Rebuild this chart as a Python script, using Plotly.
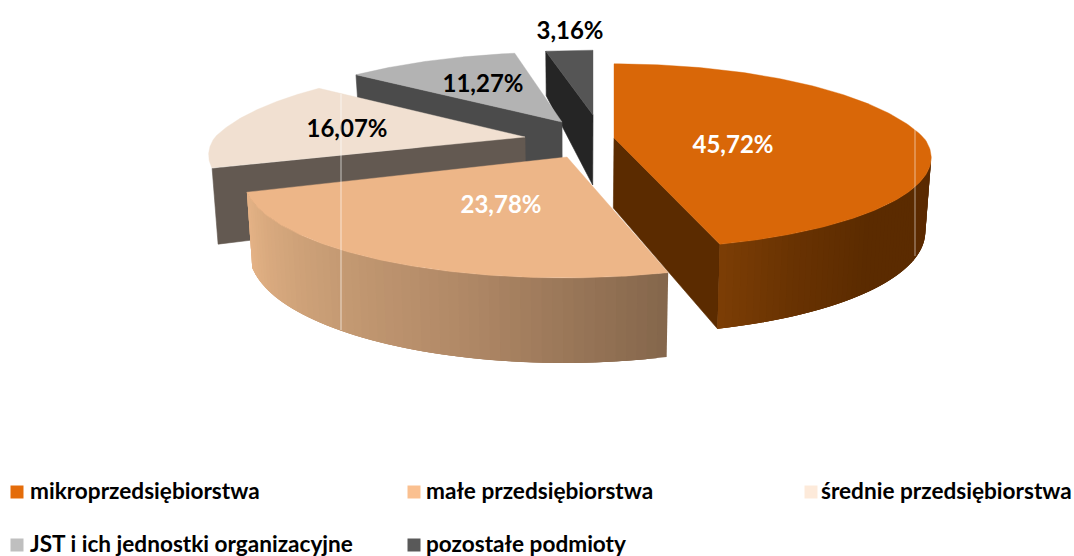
import numpy as np
import plotly.graph_objects as go

categories = ["mikroprzedsiębiorstwa", "małe przedsiębiorstwa", "średnie przedsiębiorstwa",
              "JST i ich jednostki organizacyjne", "pozostałe podmioty"]
values = [45.72, 23.78, 16.07, 11.27, 3.16]

# styles
top_colors = ["#D96708", "#EDB688", "#F1E0D1", "#B3B3B3", "#555555"]
wall_colors = ["#5B2B00", "#84664B", "#635951", "#4B4B4B", "#252525"]
legend_colors = ["#E46C0A", "#FAC090", "#FDEADA", "#BFBFBF", "#595959"]
label_colors = ["white", "white", "black", "black", "black"]
# 3D look: position of each pulled-out slice tip on the page, slice scale
apex = [(614, 138), (567, 157), (525, 137), (562, 122), (593, 115)]
x_scale = [1.0, 1.02, 1.0, 1.0, 1.0]
y_scale = [1.03, 1.12, 1.0, 0.97, 0.9]
x_shear = [4.0, -3.0, 0.0, 0.0, 0.0]
label_pos = [(733, 147), (501, 207), (347, 131), (483, 86), (570, 33)]
legend_pos = [(17, 492), (414, 492), (811, 492), (17, 545), (414, 545)]
legend_text_x = [30, 426, 821, 30, 426]
# outer wall gradients: (fraction along the visible wall from start to end angle, colour)
gradients = {
    0: [(0.0, (91, 42, 0)), (0.55, (91, 43, 0)), (0.8, (104, 50, 2)), (1.0, (124, 62, 5))],
    1: [(0.0, (132, 102, 75)), (0.35, (176, 136, 102)), (0.65, (200, 157, 117)), (1.0, (229, 179, 134))],
}
RX, K_BACK, K_FRONT, RY_BACK, RY_FRONT = 310.0, 0.3, 0.2, 93.6, 86.4
WALL_MID_X, CONVERGE = 575.0, 0.0165


def offset(t):
    """Perspective offset of a rim point at clockwise angle t from 12 o'clock."""
    X, Y = np.sin(t), np.cos(t)
    w = 1 + (K_BACK if Y >= 0 else K_FRONT) * Y
    ry = RY_BACK if Y >= 0 else RY_FRONT
    return RX * X / w, -ry * Y / w, Y


def rim(i, t):
    sx, sy, Y = offset(t)
    shear = x_shear[i] * max(0.0, -Y)
    return apex[i][0] + x_scale[i] * sx + shear, apex[i][1] + y_scale[i] * sy


def lower(x, y, Y):
    h = 71 - 14 * Y if Y < 0 else 70 - 26 * Y
    return x + (WALL_MID_X - x) * CONVERGE, y + h


def mix(stops, f):
    for (f0, c0), (f1, c1) in zip(stops, stops[1:]):
        if f <= f1:
            a = (f - f0) / (f1 - f0)
            return "rgb(%d,%d,%d)" % tuple(round(p + a * (q - p)) for p, q in zip(c0, c1))
    return "rgb(%d,%d,%d)" % stops[-1][1]


def poly(xs, ys, color, lw=0.6):
    return go.Scatter(x=list(xs) + [xs[0]], y=list(ys) + [ys[0]], mode="lines", fill="toself",
                      fillcolor=color, line=dict(color=color, width=lw), hoverinfo="skip",
                      showlegend=False)


fig = go.Figure()
edges = np.radians(np.concatenate([[0], np.cumsum(values)]) * 3.6)
order = [4, 3, 2, 1, 0]
VIS0, VIS1 = np.radians(101), np.radians(258)

for i in order:
    t0, t1 = edges[i], edges[i + 1]
    ax, ay = apex[i]
    abx, aby = lower(ax, ay, 0)
    # radial walls that face the viewer
    for t, visible in ((t0, np.sin(t0) < -1e-6), (t1, np.sin(t1) > 1e-6)):
        if visible:
            rx_, ry_ = rim(i, t)
            bx, by = lower(rx_, ry_, np.cos(t))
            fig.add_trace(poly([ax, rx_, bx, abx], [ay, ry_, by, aby], wall_colors[i]))
    # curved outer wall: gradient bands, each overlapping the next so no seams show
    if i in gradients:
        a, b = max(t0, VIS0), min(t1, VIS1)
        ts = np.linspace(a, b, 56)
        for j in range(len(ts) - 1):
            q = np.linspace(ts[j], min(ts[j] + 3 * (ts[1] - ts[0]), b), 4)
            top = [rim(i, t) for t in q]
            bot = [lower(*rim(i, t), np.cos(t)) for t in q][::-1]
            f = (j + 0.5) / (len(ts) - 1)
            fig.add_trace(poly([p[0] for p in top + bot], [p[1] for p in top + bot],
                               mix(gradients[i], f), lw=0))
    # top face
    ts = np.linspace(t0, t1, 160)
    pts = [rim(i, t) for t in ts]
    fig.add_trace(poly([ax] + [p[0] for p in pts], [ay] + [p[1] for p in pts], top_colors[i], lw=0.4))

# value labels
for v, (x, y), c in zip(values, label_pos, label_colors):
    fig.add_trace(go.Scatter(x=[x], y=[y], mode="text", text=[f"{v:.2f}%".replace(".", ",")],
                             textposition="middle center", hoverinfo="skip", showlegend=False,
                             textfont=dict(family="Lato", size=24, color=c, weight="bold")))

# legend keys
for name, (x, y), tx, c in zip(categories, legend_pos, legend_text_x, legend_colors):
    fig.add_trace(go.Scatter(x=[x], y=[y], mode="markers", name=name, hoverinfo="skip", showlegend=False,
                             marker=dict(symbol="square", size=13, color=c)))
    fig.add_trace(go.Scatter(x=[tx], y=[y + 1], mode="text", text=[name], textposition="middle right",
                             hoverinfo="skip", showlegend=False,
                             textfont=dict(family="Lato", size=22.6, color="black", weight="bold")))

fig.update_layout(
    width=1074, height=556, margin=dict(l=0, r=0, t=0, b=0),
    paper_bgcolor="white", plot_bgcolor="white", showlegend=False,
    xaxis=dict(range=[0, 1074], visible=False, fixedrange=True),
    yaxis=dict(range=[556, 0], visible=False, fixedrange=True),
    shapes=[
        dict(type="line", x0=341, x1=341, y0=94, y1=330, layer="above",
             line=dict(color="rgba(255,255,255,0.65)", width=1)),
        dict(type="line", x0=915, x1=915, y0=127, y1=256, layer="above",
             line=dict(color="rgba(255,255,255,0.55)", width=1)),
    ],
)
fig.write_html("out.html", config={"displayModeBar": False},
               post_script="document.body.style.margin='0';")
